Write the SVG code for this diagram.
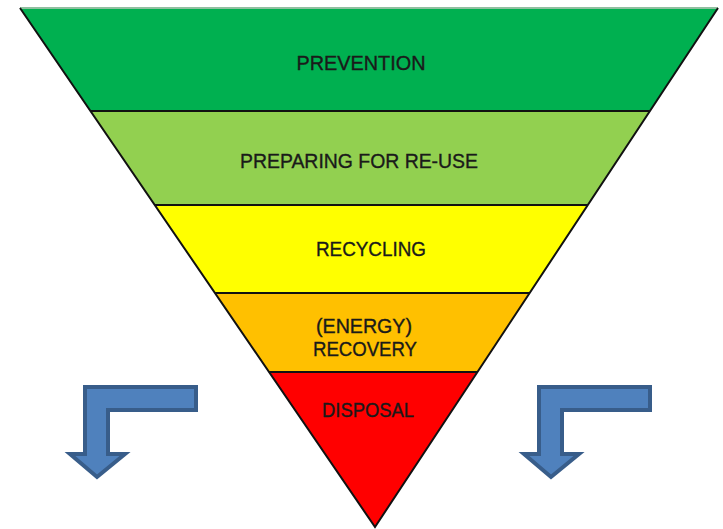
<svg xmlns="http://www.w3.org/2000/svg" width="723" height="529" viewBox="0 0 723 529">
  <style>
    .lbl { font-family: "Liberation Sans", Arial, sans-serif; font-size: 20px; fill: #1a1a1a; stroke: #1a1a1a; stroke-width: 0.35; text-anchor: middle; }
    .sep { stroke: #111; stroke-width: 2; fill: none; }
    .arrow { fill: #4F81BD; stroke: #385D8A; stroke-width: 4; stroke-linejoin: miter; }
  </style>
  <rect width="723" height="529" fill="#ffffff"/>
  <g id="layer-prevention">
    <polygon points="20,8 718,8 650,111 90,111" fill="#00B050"/>
    <text class="lbl" x="361" y="70" textLength="129" lengthAdjust="spacingAndGlyphs">PREVENTION</text>
  </g>
  <g id="layer-reuse">
    <polygon points="90,111 650,111 588,205 155,205" fill="#92D050"/>
    <text class="lbl" x="359" y="168" textLength="238" lengthAdjust="spacingAndGlyphs">PREPARING FOR RE-USE</text>
  </g>
  <g id="layer-recycling">
    <polygon points="155,205 588,205 530,293 215,293" fill="#FFFF00"/>
    <text class="lbl" x="371" y="256" textLength="110" lengthAdjust="spacingAndGlyphs">RECYCLING</text>
  </g>
  <g id="layer-recovery">
    <polygon points="215,293 530,293 477,372 269,372" fill="#FFC000"/>
    <text class="lbl" x="364" y="333" textLength="96" lengthAdjust="spacingAndGlyphs">(ENERGY)</text>
    <text class="lbl" x="365" y="356" textLength="104" lengthAdjust="spacingAndGlyphs">RECOVERY</text>
  </g>
  <g id="layer-disposal">
    <polygon points="269,372 477,372 375,527" fill="#FF0000"/>
    <text class="lbl" x="368" y="417" textLength="92" lengthAdjust="spacingAndGlyphs">DISPOSAL</text>
  </g>
  <g id="outline">
    <line x1="20" y1="8" x2="718" y2="8" stroke="#8fbf9f" stroke-width="2"/>
    <polyline points="20,8 375,527 718,8" fill="none" stroke="#111" stroke-width="2" stroke-linejoin="miter"/>
  </g>
  <g id="connectors">
    <line class="sep" x1="90" y1="111" x2="650" y2="111"/>
    <line class="sep" x1="155" y1="205" x2="588" y2="205"/>
    <line class="sep" x1="215" y1="293" x2="530" y2="293"/>
    <line class="sep" x1="269" y1="372" x2="477" y2="372"/>
  </g>
  <g id="arrow-left">
    <path class="arrow" d="M85,387 H196 V410 H108 V454 H125 L97,477 L70,454 H85 Z"/>
  </g>
  <g id="arrow-right">
    <path class="arrow" d="M539,387 H650 V410 H562 V454 H579 L551,477 L524,454 H539 Z"/>
  </g>
</svg>
